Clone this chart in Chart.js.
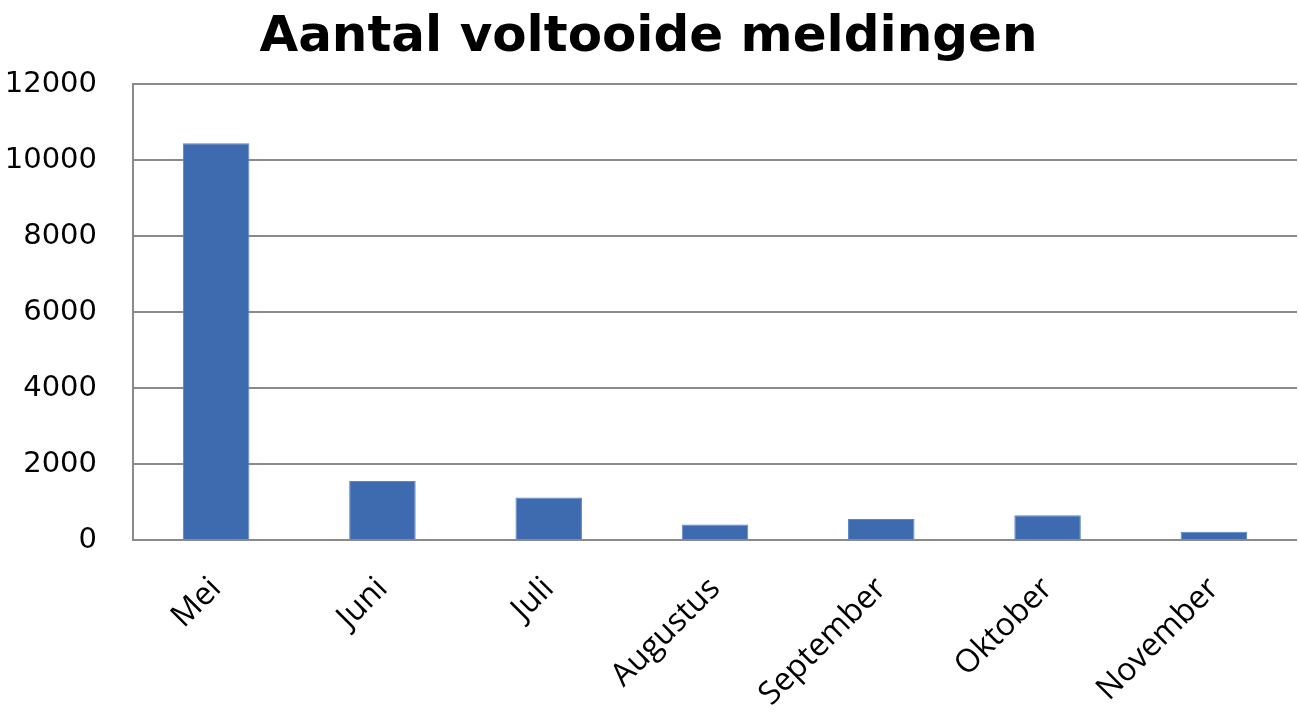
<!DOCTYPE html>
<html>
<head>
<meta charset="utf-8">
<script src="https://cdn.jsdelivr.net/npm/chart.js@4.4.1/dist/chart.umd.min.js"></script>
<style>
  html, body { margin: 0; padding: 0; background: #ffffff; }
  #wrap { width: 1299px; height: 713px; position: relative; }
</style>
</head>
<body>
<div id="wrap"><canvas id="chartMeldingen"></canvas></div>
<script>
// ---- data ----
const maanden = ['Mei', 'Juni', 'Juli', 'Augustus', 'September', 'Oktober', 'November'];
const voltooid = [10440, 1550, 1120, 410, 550, 650, 220];
const titel = 'Aantal voltooide meldingen';

const gridKleur = '#8a8a8a';
const balkKleur = '#3e6bb0';

new Chart(document.getElementById('chartMeldingen').getContext('2d'), {
    type: 'bar',
    data: {
        labels: maanden,
        datasets: [{
            data: voltooid,
            backgroundColor: balkKleur,
            borderColor: '#5b85c6',
            borderWidth: 1,
            categoryPercentage: 1,
            barPercentage: 0.4
        }]
    },
    options: {
        responsive: true, maintainAspectRatio: false, animation: false,
        layout: { padding: { left: 0, right: 2, top: 0, bottom: 0 } },
        plugins: {
            legend: { display: false },
            tooltip: { enabled: false },
            title: {
                display: true,
                text: titel,
                color: '#000000',
                font: { family: 'DejaVu Sans', size: 50, weight: 'bold', lineHeight: 1.2 },
                padding: { top: 8, bottom: 16 }
            }
        },
        scales: {
            x: {
                grid: { display: false, drawTicks: false },
                border: { display: false },
                ticks: {
                    color: '#000000',
                    font: { family: 'Open Sans', size: 32 },
                    minRotation: 45, maxRotation: 45,
                    padding: 30
                },
                afterFit: (scale) => { scale.height = 173; }
            },
            y: {
                min: 0, max: 12000,
                ticks: {
                    stepSize: 2000,
                    color: '#000000',
                    font: { family: 'DejaVu Sans', size: 29 },
                    padding: 36,
                    callback: (v) => String(v)
                },
                grid: { color: gridKleur, lineWidth: 2, drawTicks: false },
                border: { display: true, color: gridKleur, width: 2 },
                afterFit: (scale) => { scale.width = 133; }
            }
        }
    }
});
</script>
</body>
</html>
